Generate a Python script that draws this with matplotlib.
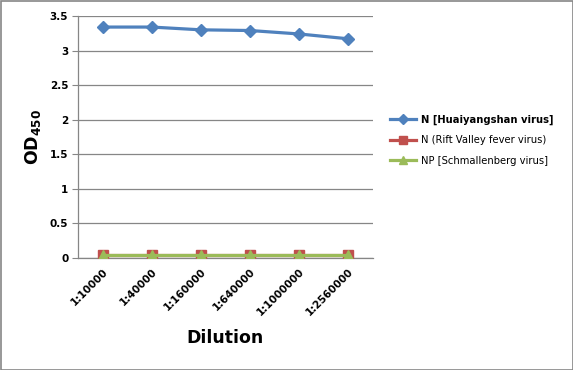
import matplotlib
matplotlib.use("Agg")
import matplotlib.pyplot as plt
from matplotlib.patches import Rectangle

categories = ["1:10000", "1:40000", "1:160000", "1:640000", "1:1000000", "1:2560000"]
huaiyangshan = [3.34, 3.34, 3.30, 3.29, 3.24, 3.17]
rift_valley = [0.05, 0.05, 0.05, 0.05, 0.05, 0.05]
schmallenberg = [0.05, 0.05, 0.05, 0.05, 0.05, 0.05]
series_labels = ["N [Huaiyangshan virus]", "N (Rift Valley fever virus)", "NP [Schmallenberg virus]"]
yticks = [0, 0.5, 1, 1.5, 2, 2.5, 3, 3.5]

plt.rcParams['font.family'] = ['DejaVu Sans']

fig = plt.figure(figsize=(5.73, 3.70), dpi=100)
ax = fig.add_axes([78/573, 1-258/370, (373-78)/573, (258-16)/370])

x = list(range(len(categories)))
l1, = ax.plot(x, huaiyangshan, color="#4F81BD", lw=2.3, marker="D", ms=6.5, zorder=5)
l2, = ax.plot(x, rift_valley, color="#C0504D", lw=2.3, marker="s", ms=6.5, zorder=4)
l3, = ax.plot(x, schmallenberg, color="#9BBB59", lw=2.3, marker="^", ms=7, zorder=4.5)

ax.set_xlim(-0.5, len(categories) - 0.5)
ax.set_ylim(0, 3.5)
ax.set_yticks(yticks)
ax.set_yticklabels([f"{v:g}" for v in yticks], fontsize=7.5, fontweight="bold")
ax.set_xticks(x)
ax.set_xticklabels(categories, rotation=45, ha="right", rotation_mode="anchor",
                   fontsize=7.5, fontweight="bold")
ax.tick_params(axis="x", length=0, pad=6)
ax.tick_params(axis="y", length=4, color="#868686", pad=3)
ax.grid(axis="y", color="#868686", lw=0.9)
ax.set_axisbelow(True)
for s in ["top", "right"]:
    ax.spines[s].set_visible(False)
for s in ["left", "bottom"]:
    ax.spines[s].set_color("#868686")
    ax.spines[s].set_linewidth(0.9)

fig.text(225/573, 1-338/370, "Dilution", ha="center", va="center", fontsize=12.5, fontweight="bold")
fig.text(33/573, 1-137/370, r"OD$_{\mathregular{450}}$", ha="center", va="center", rotation=90,
         fontsize=12.5, fontweight="bold")

leg = fig.legend([l1, l2, l3], series_labels, loc="center left",
                 bbox_to_anchor=(381/573, 1-140/370), frameon=False,
                 fontsize=7.2, handlelength=2.6, handletextpad=0.5, labelspacing=1.05,
                 markerscale=0.85)
leg.get_texts()[0].set_fontweight("bold")

fig.patches.append(Rectangle((0.5/573, 0.5/370), 1-1/573, 1-1/370, transform=fig.transFigure,
                             fill=False, edgecolor="#868686", lw=1.2))

fig.savefig("out.png", dpi=100)
